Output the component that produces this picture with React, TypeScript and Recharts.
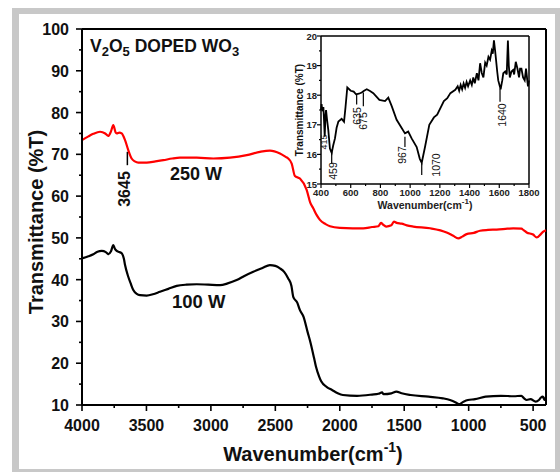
import { LineChart, Line, XAxis, YAxis, ReferenceLine } from 'recharts';

// main spectra, wavenumber (cm-1) vs transmittance (%T)
const redWave = [4000, 3950, 3912, 3860, 3820, 3796, 3775, 3757, 3740, 3731, 3710, 3692, 3666, 3641, 3615, 3590, 3563, 3498, 3430, 3369, 3300, 3240, 3110, 2981, 2852, 2722, 2619, 2542, 2464, 2420, 2400, 2373, 2348, 2309, 2257, 2230, 2206, 2180, 2154, 2110, 2076, 1999, 1900, 1818, 1750, 1700, 1680, 1665, 1640, 1600, 1580, 1559, 1520, 1480, 1430, 1300, 1171, 1120, 1081, 1050, 1016, 960, 912, 850, 783, 700, 654, 590, 576, 550, 500, 472, 440, 421, 400];
const redT = [73.4, 74.3, 74.9, 75.4, 75.0, 74.4, 75.5, 77.0, 75.3, 75.0, 75.2, 75.0, 73.4, 71.0, 69.0, 68.3, 68.0, 68.0, 68.3, 68.6, 69.0, 69.2, 69.2, 69.0, 69.2, 69.8, 70.6, 70.9, 70.2, 69.4, 69.0, 67.8, 64.8, 64.2, 61.5, 58.5, 57.1, 55.5, 54.3, 53.3, 52.8, 52.4, 52.3, 52.3, 52.6, 52.8, 53.6, 53.2, 52.7, 53.0, 53.9, 53.6, 53.4, 53.0, 52.7, 52.3, 51.3, 50.5, 49.9, 50.3, 50.9, 51.2, 51.7, 51.9, 52.0, 52.2, 52.3, 52.2, 51.9, 51.3, 50.8, 50.1, 50.9, 51.5, 51.8];

const blackWave = [4000, 3950, 3912, 3880, 3847, 3815, 3796, 3775, 3757, 3745, 3731, 3710, 3692, 3675, 3666, 3641, 3620, 3602, 3575, 3550, 3498, 3450, 3395, 3330, 3265, 3190, 3110, 3020, 2929, 2870, 2800, 2740, 2671, 2600, 2542, 2500, 2464, 2430, 2400, 2375, 2361, 2330, 2309, 2281, 2250, 2226, 2200, 2185, 2160, 2143, 2100, 2060, 2020, 1976, 1866, 1750, 1700, 1672, 1660, 1600, 1561, 1520, 1450, 1311, 1200, 1145, 1100, 1076, 1040, 1006, 950, 868, 750, 650, 591, 570, 549, 520, 480, 455, 439, 425, 411, 400];
const blackT = [45.1, 45.6, 46.1, 46.7, 46.9, 46.6, 46.1, 46.8, 48.3, 47.4, 46.9, 46.6, 46.3, 45.0, 43.5, 40.7, 38.9, 37.5, 36.6, 36.3, 36.2, 36.5, 37.1, 37.8, 38.5, 38.8, 38.9, 38.8, 38.7, 39.1, 39.9, 40.9, 41.9, 42.8, 43.5, 43.3, 42.7, 41.8, 40.3, 38.5, 35.9, 34.5, 32.7, 31.1, 27.5, 24.8, 21.3, 19.2, 16.8, 15.6, 14.3, 13.6, 12.9, 12.4, 12.2, 12.5, 12.7, 13.0, 12.6, 12.8, 13.2, 12.8, 12.4, 12.0, 11.6, 11.2, 10.6, 10.2, 10.8, 11.2, 11.4, 12.0, 12.2, 12.1, 12.2, 11.6, 11.2, 11.4, 10.8, 11.2, 11.8, 12.0, 11.2, 12.0];

// inset: 100 W region 400-1800 cm-1
const insetWave = [400, 404, 409, 416, 420, 425, 430, 434, 440, 449, 460, 472, 482, 494, 505, 517, 539, 555, 565, 577, 600, 620, 636, 655, 674, 690, 708, 730, 752, 793, 831, 853, 876, 909, 943, 965, 987, 1010, 1044, 1065, 1078, 1100, 1129, 1160, 1182, 1227, 1250, 1271, 1304, 1320, 1330, 1340, 1350, 1360, 1370, 1380, 1390, 1404, 1415, 1425, 1435, 1449, 1460, 1471, 1482, 1493, 1505, 1515, 1527, 1538, 1549, 1556, 1564, 1572, 1578, 1586, 1593, 1609, 1620, 1627, 1640, 1650, 1658, 1664, 1671, 1682, 1693, 1700, 1711, 1722, 1733, 1740, 1749, 1760, 1771, 1780, 1793, 1800];
const insetT = [17.5, 17.7, 17.46, 17.6, 17.2, 16.6, 17.3, 17.5, 17.2, 16.83, 16.2, 16.05, 16.3, 16.54, 16.9, 17.11, 17.2, 17.1, 17.6, 18.26, 18.15, 18.12, 18.03, 18.05, 18.09, 18.15, 18.2, 18.14, 18.07, 17.84, 17.8, 17.92, 17.63, 17.17, 16.89, 16.71, 16.77, 16.54, 16.25, 15.85, 15.72, 16.25, 17.0, 17.25, 17.34, 17.8, 17.9, 18.07, 18.18, 18.3, 18.15, 18.35, 18.2, 18.4, 18.25, 18.45, 18.3, 18.5, 18.35, 18.6, 18.4, 18.74, 18.5, 19.08, 18.75, 18.6, 19.1, 19.0, 19.3, 19.2, 19.5, 19.4, 19.85, 19.5, 19.2, 18.8, 18.5, 18.2, 18.5, 18.74, 18.8, 18.7, 19.85, 19.0, 18.6, 18.8, 18.85, 18.7, 19.13, 18.9, 18.6, 18.9, 18.9, 18.6, 18.5, 18.9, 18.3, 18.5];

const mainXTicks = [4000, 3750, 3500, 3250, 3000, 2750, 2500, 2250, 2000, 1750, 1500, 1250, 1000, 750, 500];
const mainYTicks = [10, 15, 20, 25, 30, 35, 40, 45, 50, 55, 60, 65, 70, 75, 80, 85, 90, 95, 100];
const insetXTicks = [400, 500, 600, 700, 800, 900, 1000, 1100, 1200, 1300, 1400, 1500, 1600, 1700, 1800];
const insetYTicks = [15, 15.5, 16, 16.5, 17, 17.5, 18, 18.5, 19, 19.5, 20];

// inset peak markers: [wavenumber, top, bottom]
const insetMarks = [
  [472, 16.08, 15.68],
  [640, 18.03, 17.69],
  [685, 18.09, 17.63],
  [965, 16.6, 16.25],
  [1078, 15.7, 15.3],
  [1605, 18.23, 17.78],
];

const FONT = '"Liberation Sans", Arial, sans-serif';

const redData = redWave.map((w, i) => ({ w, t: redT[i] }));
const blackData = blackWave.map((w, i) => ({ w, t: blackT[i] }));
const insetData = insetWave.map((w, i) => ({ w, t: insetT[i] }));

function MainXTick(props: any) {
  const { x, y, payload } = props;
  const major = payload.value % 500 === 0;
  return (
    <g>
      <line x1={x} x2={x} y1={y} y2={y + (major ? 6 : 3)} stroke="#000" strokeWidth={1.6} />
      {major && (
        <text x={x} y={y + 26} textAnchor="middle" fontSize={16} fontWeight="bold" fontFamily={FONT} fill="#111">
          {payload.value}
        </text>
      )}
    </g>
  );
}

function MainYTick(props: any) {
  const { x, y, payload } = props;
  const major = payload.value % 10 === 0;
  return (
    <g>
      <line x1={x} x2={x - (major ? 6 : 3)} y1={y} y2={y} stroke="#000" strokeWidth={1.6} />
      {major && (
        <text x={x - 13} y={y + 6} textAnchor="end" fontSize={16} fontWeight="bold" fontFamily={FONT} fill="#111">
          {payload.value}
        </text>
      )}
    </g>
  );
}

function InsetXTick(props: any) {
  const { x, y, payload } = props;
  const major = payload.value % 200 === 0;
  return (
    <g>
      <line x1={x} x2={x} y1={y} y2={y + (major ? 4 : 2)} stroke="#000" strokeWidth={1.2} />
      {major && (
        <text x={x} y={y + 12} textAnchor="middle" fontSize={9.5} fontWeight="bold" fontFamily={FONT} fill="#222">
          {payload.value}
        </text>
      )}
    </g>
  );
}

function InsetYTick(props: any) {
  const { x, y, payload } = props;
  const major = Number.isInteger(payload.value);
  return (
    <g>
      <line x1={x} x2={x - (major ? 4 : 2)} y1={y} y2={y} stroke="#000" strokeWidth={1.2} />
      {major && (
        <text x={x - 4} y={y + 3.5} textAnchor="end" fontSize={9.5} fontWeight="bold" fontFamily={FONT} fill="#222">
          {payload.value}
        </text>
      )}
    </g>
  );
}

function rot(x: number, y: number, label: string, size: number, bold = false) {
  return (
    <text
      x={x}
      y={y}
      transform={`rotate(-90 ${x} ${y})`}
      textAnchor="middle"
      fontSize={size}
      fontWeight={bold ? 'bold' : 'normal'}
      fontFamily={FONT}
      fill="#111"
    >
      {label}
    </text>
  );
}

export default function App() {
  return (
    <div style={{ position: 'absolute', left: 0, top: 0, width: 560, height: 472, background: '#fff' }}>
      <div style={{ position: 'absolute', left: 12, top: 8, width: 548, height: 464, background: '#c8c8c8' }} />
      <div style={{ position: 'absolute', left: 19, top: 14, width: 536, height: 455, background: '#fff' }} />

      <div style={{ position: 'absolute', left: 0, top: 0 }}>
        <LineChart width={560} height={472} margin={{ top: 29, right: 14, left: 22, bottom: 37 }}>
          <XAxis
            type="number"
            dataKey="w"
            domain={[400, 4000]}
            reversed
            ticks={mainXTicks}
            interval={0}
            height={30}
            tickLine={false}
            tickSize={0}
            tickMargin={0}
            tick={<MainXTick />}
            axisLine={{ stroke: '#000', strokeWidth: 2 }}
          />
          <YAxis
            type="number"
            domain={[10, 100]}
            ticks={mainYTicks}
            interval={0}
            width={60}
            tickLine={false}
            tickSize={0}
            tickMargin={0}
            tick={<MainYTick />}
            axisLine={{ stroke: '#000', strokeWidth: 2 }}
          />
          <ReferenceLine y={100} stroke="#000" strokeWidth={2} />
          <ReferenceLine x={400} stroke="#000" strokeWidth={2} />
          <ReferenceLine segment={[{ x: 3648, y: 70.6 }, { x: 3648, y: 67.4 }]} stroke="#000" strokeWidth={1.5} />
          <Line data={redData} dataKey="t" type="monotone" stroke="#ff0000" strokeWidth={2.2} dot={false} isAnimationActive={false} />
          <Line data={blackData} dataKey="t" type="monotone" stroke="#000" strokeWidth={2.2} dot={false} isAnimationActive={false} />
        </LineChart>
      </div>

      <div style={{ position: 'absolute', left: 270, top: 20 }}>
        <LineChart width={275} height={200} margin={{ top: 16, right: 16, left: 21, bottom: 16 }}>
          <XAxis
            type="number"
            dataKey="w"
            domain={[400, 1800]}
            ticks={insetXTicks}
            interval={0}
            height={20}
            tickLine={false}
            tickSize={0}
            tickMargin={0}
            tick={<InsetXTick />}
            axisLine={{ stroke: '#000', strokeWidth: 1.5 }}
          />
          <YAxis
            type="number"
            domain={[15, 20]}
            ticks={insetYTicks}
            interval={0}
            width={30}
            tickLine={false}
            tickSize={0}
            tickMargin={0}
            tick={<InsetYTick />}
            axisLine={{ stroke: '#000', strokeWidth: 1.5 }}
          />
          <ReferenceLine y={20} stroke="#000" strokeWidth={1.5} />
          <ReferenceLine x={1800} stroke="#000" strokeWidth={1.5} />
          {insetMarks.map(([w, a, b]) => (
            <ReferenceLine key={w} segment={[{ x: w, y: a }, { x: w, y: b }]} stroke="#000" strokeWidth={1.2} />
          ))}
          <Line data={insetData} dataKey="t" type="linear" stroke="#000" strokeWidth={1.8} dot={false} isAnimationActive={false} />
        </LineChart>
      </div>

      <svg width={560} height={472} style={{ position: 'absolute', left: 0, top: 0, pointerEvents: 'none' }}>
        <text x={90} y={52} fontSize={17.5} fontWeight="bold" fontFamily={FONT} fill="#111">
          V<tspan dy={4} fontSize={13}>2</tspan>
          <tspan dy={-4}>O</tspan>
          <tspan dy={4} fontSize={13}>5</tspan>
          <tspan dy={-4}>{' DOPED WO'}</tspan>
          <tspan dy={4} fontSize={13}>3</tspan>
        </text>
        <text x={170} y={180} fontSize={18} fontWeight="bold" fontFamily={FONT} fill="#111">250 W</text>
        <text x={172} y={308} fontSize={18.5} fontWeight="bold" fontFamily={FONT} fill="#111">100 W</text>
        {rot(130, 189, '3645', 16, true)}
        {rot(43, 222, 'Transmittance (%T)', 20, true)}
        <text x={313} y={461} textAnchor="middle" fontSize={20} fontWeight="bold" fontFamily={FONT} fill="#111">
          Wavenumber(cm<tspan dy={-9} fontSize={14}>-1</tspan>
          <tspan dy={9}>)</tspan>
        </text>

        {rot(303, 110, 'Transmittance (%T)', 10, true)}
        <text x={425} y={209} textAnchor="middle" fontSize={10.5} fontWeight="bold" fontFamily={FONT} fill="#222">
          Wavenumber(cm<tspan dy={-5} fontSize={8}>-1</tspan>
          <tspan dy={5}>)</tspan>
        </text>
        {rot(327, 142, '415', 9)}
        {rot(337, 171, '459', 10.5)}
        {rot(361, 116, '635', 10.5)}
        {rot(367, 121, '675', 10.5)}
        {rot(406, 155, '967', 10.5)}
        {rot(440, 165, '1070', 10.5)}
        {rot(506, 115, '1640', 10.5)}
      </svg>
    </div>
  );
}
